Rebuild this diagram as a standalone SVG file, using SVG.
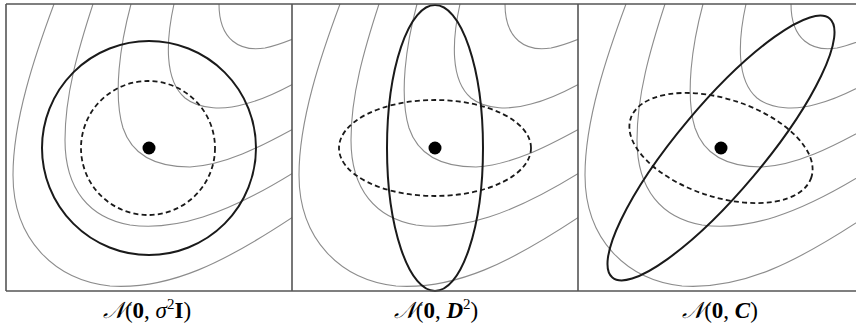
<svg xmlns="http://www.w3.org/2000/svg" xmlns:xlink="http://www.w3.org/1999/xlink" width="856" height="329" viewBox="0 0 856 329">
<style>
.contour{fill:none;stroke:#8c8c8c;stroke-width:1.1}
.frame{fill:none;stroke:#555;stroke-width:1.6}
.solid{fill:none;stroke:#1a1a1a;stroke-width:2}
.dashed{fill:none;stroke:#1a1a1a;stroke-width:1.8;stroke-dasharray:5 3.2}
.dot{fill:#000}
.lbl{font-family:"Liberation Serif","DejaVu Serif",serif;font-size:23px;fill:#000}
.sup{font-size:15px}
.b{font-weight:bold}
.i{font-style:italic}
</style>
<defs>
<g id="contours">
<path class="contour" d="M219,4 C219,40 240,52 265,48 C275,46 283,43 293,39"/>
<path class="contour" d="M174,4 C166,40 164,80 185,98 C200,110 225,110 245,104 C265,99 280,91 293,84"/>
<path class="contour" d="M131,4 C120,45 113,95 123,128 C133,158 160,167 190,167 C225,165 260,147 293,129"/>
<path class="contour" d="M93,4 C78,50 65,95 65,140 C65,190 90,218 130,225 C175,231 225,215 293,173"/>
<path class="contour" d="M54,4 C35,55 13,120 13,175 C13,240 55,280 110,286 C170,290 225,262 293,217"/>
</g>
<clipPath id="c1"><rect x="6" y="4" width="286" height="287"/></clipPath>
<clipPath id="c2"><rect x="292" y="4" width="286" height="287"/></clipPath>
<clipPath id="c3"><rect x="578" y="4" width="278" height="287"/></clipPath>
</defs>
<g id="panel1">
<g clip-path="url(#c1)"><use xlink:href="#contours"/></g>
<circle class="solid" cx="149" cy="148" r="107"/>
<circle class="dashed" cx="148" cy="148" r="67"/>
<circle class="dot" cx="149" cy="148" r="6.5"/>
<text class="lbl" x="147" y="318" text-anchor="middle"><tspan class="i">𝒩</tspan>(<tspan class="b">0</tspan>, <tspan class="i">σ</tspan><tspan class="sup" dy="-9">2</tspan><tspan class="b" dy="9">I</tspan>)</text>
</g>
<g id="panel2">
<g clip-path="url(#c2)"><use xlink:href="#contours" transform="translate(286,0)"/></g>
<ellipse class="solid" cx="435" cy="148" rx="48" ry="143"/>
<ellipse class="dashed" cx="435" cy="148" rx="96" ry="48"/>
<circle class="dot" cx="435" cy="148" r="6.5"/>
<text class="lbl" x="436" y="318" text-anchor="middle"><tspan class="i">𝒩</tspan>(<tspan class="b">0</tspan>, <tspan class="b i">D</tspan><tspan class="sup" dy="-9">2</tspan><tspan dy="9">)</tspan></text>
</g>
<g id="panel3">
<g clip-path="url(#c3)"><use xlink:href="#contours" transform="translate(572,0)"/></g>
<ellipse class="solid" cx="721" cy="148" rx="169" ry="43" transform="rotate(-50 721 148)"/>
<ellipse class="dashed" cx="721" cy="148" rx="95" ry="49" transform="rotate(18 721 148)"/>
<circle class="dot" cx="721" cy="148" r="6.5"/>
<text class="lbl" x="720" y="318" text-anchor="middle"><tspan class="i">𝒩</tspan>(<tspan class="b">0</tspan>, <tspan class="b i">C</tspan>)</text>
</g>
<g id="frame">
<line class="frame" x1="6" y1="4" x2="856" y2="4"/>
<line class="frame" x1="6" y1="291" x2="856" y2="291"/>
<line class="frame" x1="6" y1="4" x2="6" y2="291"/>
<line class="frame" x1="292" y1="4" x2="292" y2="291"/>
<line class="frame" x1="578" y1="4" x2="578" y2="291"/>
</g>
</svg>
